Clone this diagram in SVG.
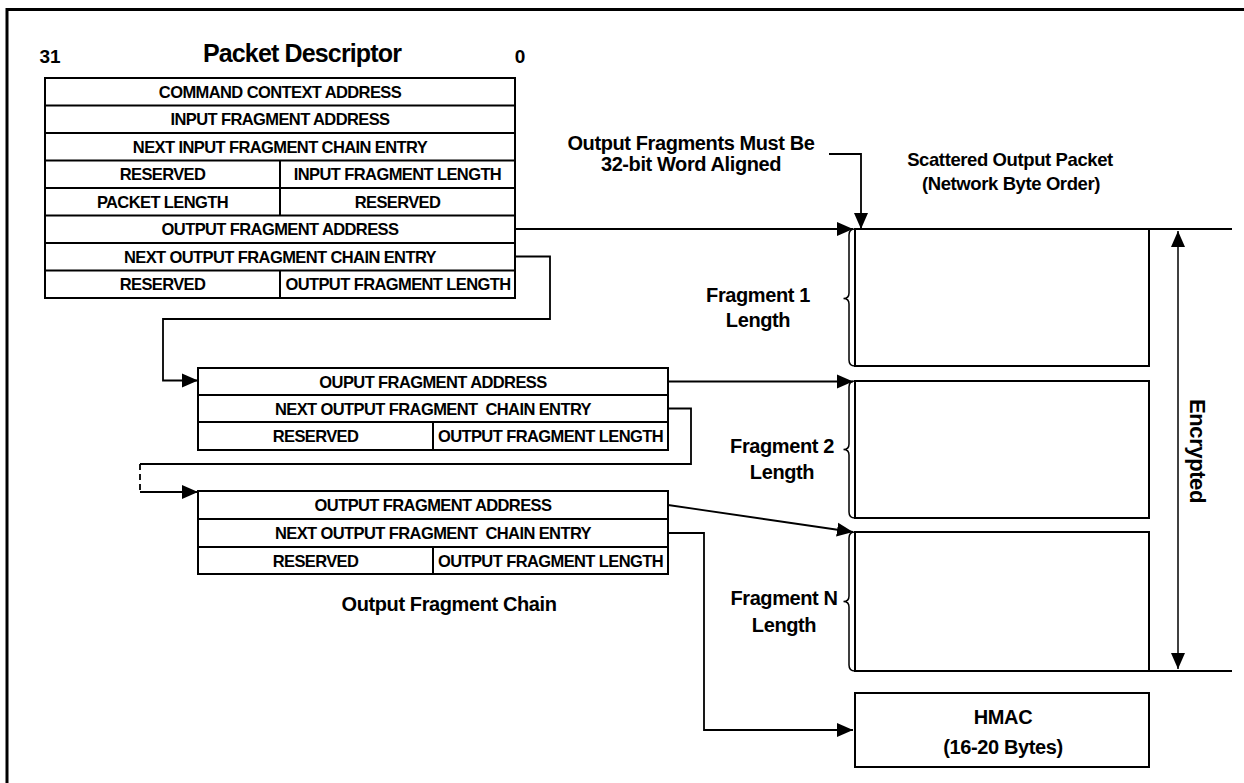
<svg xmlns="http://www.w3.org/2000/svg" width="1244" height="783" viewBox="0 0 1244 783">
  <defs>
    <style>
      text { font-family: "Liberation Sans", Arial, sans-serif; font-weight: bold; fill: #000; }
      .cell { font-size: 16.5px; letter-spacing: -0.6px; text-anchor: middle; }
      .lbl { font-size: 20px; letter-spacing: -0.4px; text-anchor: middle; }
      .title { font-size: 25px; letter-spacing: -0.85px; text-anchor: middle; }
      .box { fill: #fff; stroke: #000; stroke-width: 2; }
      .grid { stroke: #000; stroke-width: 2; fill: none; }
      .wire { stroke: #000; stroke-width: 1.8; fill: none; }
      .brace { stroke: #000; stroke-width: 1.5; fill: none; }
    </style>
    <marker id="arrow" markerUnits="userSpaceOnUse" markerWidth="16" markerHeight="16" viewBox="0 0 16 14" refX="16" refY="7" orient="auto">
      <path d="M0,0 L16,7 L0,14 z" fill="#000"/>
    </marker>
    <marker id="arrowStart" markerUnits="userSpaceOnUse" markerWidth="16" markerHeight="16" viewBox="0 0 16 14" refX="16" refY="7" orient="auto-start-reverse">
      <path d="M0,0 L16,7 L0,14 z" fill="#000"/>
    </marker>
  </defs>

  <rect width="1244" height="783" fill="#fff"/>

  <!-- outer frame (top and left edges) -->
  <g id="frame">
    <line x1="7" y1="9.5" x2="1244" y2="9.5" stroke="#000" stroke-width="3"/>
    <line x1="7" y1="8" x2="7" y2="783" stroke="#000" stroke-width="3"/>
  </g>

  <!-- packet descriptor word layout -->
  <g id="packet-descriptor">
    <text x="50" y="63" style="font-size:19px;text-anchor:middle">31</text>
    <text x="302" y="62" class="title">Packet Descriptor</text>
    <text x="520" y="63" style="font-size:19px;text-anchor:middle">0</text>
    <rect x="45" y="78" width="470" height="220" class="box"/>
    <path class="grid" d="M45 105.5H515 M45 133H515 M45 160.5H515 M45 188H515 M45 215.5H515 M45 243H515 M45 270.5H515 M280 160.5V215.5 M280 270.5V298"/>
    <text x="280" y="97.5" class="cell">COMMAND CONTEXT ADDRESS</text>
    <text x="280" y="125" class="cell">INPUT FRAGMENT ADDRESS</text>
    <text x="280" y="152.5" class="cell">NEXT INPUT FRAGMENT CHAIN ENTRY</text>
    <text x="162.5" y="180" class="cell">RESERVED</text>
    <text x="397.5" y="180" class="cell">INPUT FRAGMENT LENGTH</text>
    <text x="162.5" y="207.5" class="cell">PACKET LENGTH</text>
    <text x="397.5" y="207.5" class="cell">RESERVED</text>
    <text x="280" y="235" class="cell">OUTPUT FRAGMENT ADDRESS</text>
    <text x="280" y="262.5" class="cell">NEXT OUTPUT FRAGMENT CHAIN ENTRY</text>
    <text x="162.5" y="290" class="cell">RESERVED</text>
    <text x="398" y="290" class="cell">OUTPUT FRAGMENT LENGTH</text>
  </g>

  <!-- first output fragment chain entry -->
  <g id="chain-entry-1">
    <rect x="198" y="368" width="470" height="82" class="box"/>
    <path class="grid" d="M198 395H668 M198 422H668 M433 422V450"/>
    <text x="433" y="387.5" class="cell">OUPUT FRAGMENT ADDRESS</text>
    <text x="433" y="414.5" class="cell" xml:space="preserve">NEXT OUTPUT FRAGMENT  CHAIN ENTRY</text>
    <text x="315.5" y="442" class="cell">RESERVED</text>
    <text x="550.5" y="442" class="cell">OUTPUT FRAGMENT LENGTH</text>
  </g>

  <!-- last output fragment chain entry -->
  <g id="chain-entry-n">
    <rect x="198" y="491" width="470" height="83" class="box"/>
    <path class="grid" d="M198 519H668 M198 547H668 M433 547V574"/>
    <text x="433" y="511" class="cell">OUTPUT FRAGMENT ADDRESS</text>
    <text x="433" y="539" class="cell" xml:space="preserve">NEXT OUTPUT FRAGMENT  CHAIN ENTRY</text>
    <text x="315.5" y="566.5" class="cell">RESERVED</text>
    <text x="550.5" y="566.5" class="cell">OUTPUT FRAGMENT LENGTH</text>
    <text x="449" y="611" class="lbl">Output Fragment Chain</text>
  </g>

  <!-- scattered output packet -->
  <g id="output-packet">
    <text x="1010" y="166" class="lbl" style="font-size:18.5px">Scattered Output Packet</text>
    <text x="1011" y="190" class="lbl" style="font-size:18.5px">(Network Byte Order)</text>
    <path class="grid" d="M855 229H1232 M855 671H1232"/>
    <rect x="855" y="229" width="294" height="137" class="box"/>
    <rect x="855" y="381" width="294" height="137" class="box"/>
    <rect x="855" y="532" width="294" height="139" class="box"/>
  </g>

  <g id="fragment-1-length">
    <path class="brace" d="M855 229 Q849 229 849 235 L849 293 Q849 298.5 843.5 298.5 Q849 298.5 849 304 L849 360 Q849 366 855 366"/>
    <text x="758" y="302" class="lbl">Fragment 1</text>
    <text x="758" y="327" class="lbl">Length</text>
  </g>

  <g id="fragment-2-length">
    <path class="brace" d="M855 381 Q849 381 849 387 L849 444 Q849 449.5 843.5 449.5 Q849 449.5 849 455 L849 512 Q849 518 855 518"/>
    <text x="782" y="453" class="lbl">Fragment 2</text>
    <text x="782" y="479" class="lbl">Length</text>
  </g>

  <g id="fragment-n-length">
    <path class="brace" d="M855 532 Q849 532 849 538 L849 596 Q849 601.5 843.5 601.5 Q849 601.5 849 607 L849 665 Q849 671 855 671"/>
    <text x="784" y="605" class="lbl">Fragment N</text>
    <text x="784" y="632" class="lbl">Length</text>
  </g>

  <g id="hmac">
    <rect x="855" y="693" width="294" height="74" class="box"/>
    <text x="1003" y="724" class="lbl">HMAC</text>
    <text x="1003" y="754" class="lbl">(16-20 Bytes)</text>
  </g>

  <g id="alignment-note">
    <text x="691" y="150" class="lbl">Output Fragments Must Be</text>
    <text x="691" y="171" class="lbl">32-bit Word Aligned</text>
  </g>

  <g id="encrypted-span">
    <line x1="1178" y1="231" x2="1178" y2="669" stroke="#000" stroke-width="1.5" marker-start="url(#arrowStart)" marker-end="url(#arrow)"/>
    <text transform="translate(1198 451) rotate(90)" x="0" y="8" class="lbl" style="font-size:22px">Encrypted</text>
  </g>

  <!-- pointers and chain links -->
  <g id="connectors">
    <path class="wire" d="M829 154H861V229" marker-end="url(#arrow)"/>
    <path class="wire" d="M515 229H853" marker-end="url(#arrow)"/>
    <path class="wire" d="M515 256.5H550V319H163V380.5H198" marker-end="url(#arrow)"/>
    <path class="wire" d="M668 381.5H853" marker-end="url(#arrow)"/>
    <path class="wire" d="M668 408.5H691V464H140"/>
    <path class="wire" d="M140 464V492" stroke-dasharray="6 4"/>
    <path class="wire" d="M140 492H198" marker-end="url(#arrow)"/>
    <path class="wire" d="M668 505L853 532" marker-end="url(#arrow)"/>
    <path class="wire" d="M668 533H704V730H853" marker-end="url(#arrow)"/>
  </g>
</svg>
